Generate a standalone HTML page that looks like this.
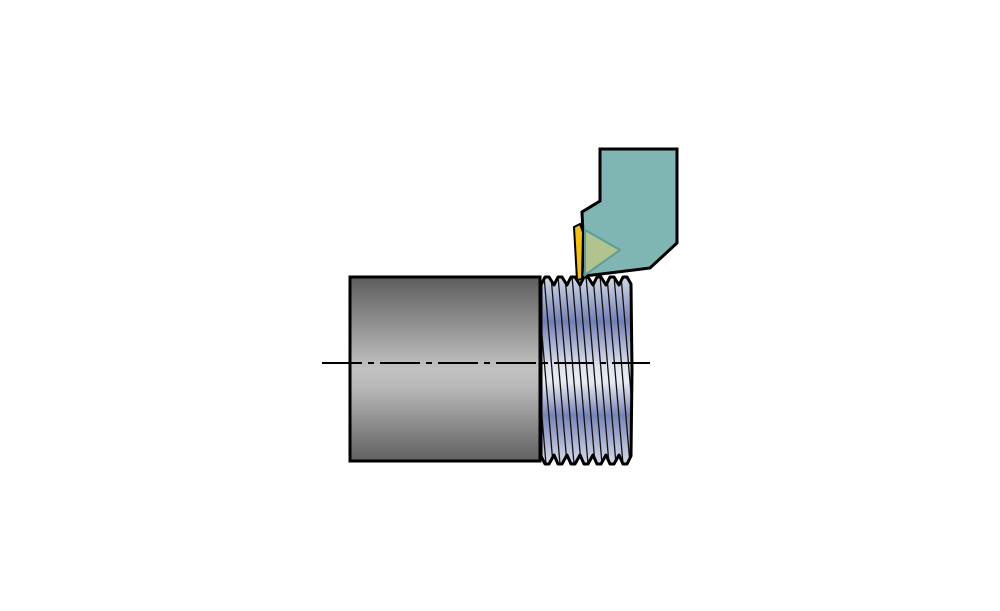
<!DOCTYPE html>
<html><head><style>html,body{margin:0;padding:0;background:#fff;}svg{display:block}</style></head>
<body>
<svg width="1000" height="611" viewBox="0 0 1000 611" xmlns="http://www.w3.org/2000/svg">
<defs>
<linearGradient id="cyl" x1="0" y1="0" x2="0" y2="1">
<stop offset="0" stop-color="#5c5c5c"/>
<stop offset="0.5" stop-color="#c2c2c2"/>
<stop offset="0.6" stop-color="#b8b8b8"/>
<stop offset="1" stop-color="#606060"/>
</linearGradient>
<linearGradient id="thr" x1="0" y1="0" x2="0" y2="1">
<stop offset="0" stop-color="#d2d8e6"/>
<stop offset="0.24" stop-color="#7380b4"/>
<stop offset="0.48" stop-color="#e0e4ee"/>
<stop offset="0.56" stop-color="#e8ebf2"/>
<stop offset="0.74" stop-color="#7884b6"/>
<stop offset="1" stop-color="#d6dbe8"/>
</linearGradient>
<clipPath id="tc"><path id="tp" d="M541,285 L545,277 L549,277 L554,285 L558,277 L562,277 L567,285 L571,277 L575,277 L580,285 L584,277 L588,277 L593,285 L597,277 L601,277 L606,285 L610,277 L614,277 L619,285 L623,277 L627,277 L631,284 L632,370 L631,456 L627,464 L623,464 L619,455 L614,464 L610,464 L606,455 L601,464 L597,464 L593,455 L588,464 L584,464 L580,455 L575,464 L571,464 L567,455 L562,464 L558,464 L554,455 L549,464 L545,464 L541,456 Z"/></clipPath>
</defs>
<rect x="350" y="277" width="190" height="184" fill="url(#cyl)" stroke="#000" stroke-width="3"/>
<use href="#tp" fill="url(#thr)"/>
<g clip-path="url(#tc)" stroke="#111" stroke-width="1.3">
<line x1="530" y1="276" x2="546" y2="464"/><line x1="537" y1="276" x2="553" y2="464"/>
<line x1="544" y1="276" x2="560" y2="464"/><line x1="551" y1="276" x2="567" y2="464"/>
<line x1="558" y1="276" x2="574" y2="464"/><line x1="565" y1="276" x2="581" y2="464"/>
<line x1="572" y1="276" x2="588" y2="464"/><line x1="579" y1="276" x2="595" y2="464"/>
<line x1="586" y1="276" x2="602" y2="464"/><line x1="593" y1="276" x2="609" y2="464"/>
<line x1="600" y1="276" x2="616" y2="464"/><line x1="607" y1="276" x2="623" y2="464"/>
<line x1="614" y1="276" x2="630" y2="464"/><line x1="621" y1="276" x2="637" y2="464"/>
</g>
<use href="#tp" fill="none" stroke="#000" stroke-width="3" stroke-linejoin="round"/>
<line x1="322" y1="363" x2="650" y2="363" stroke="#000" stroke-width="2" stroke-dasharray="40,6,6,6"/>
<polygon points="600,149 677,149 677,243 650,268 585,276 582,212 600,201" fill="#7fb5b3" stroke="#000" stroke-width="3"/>
<polygon points="585,230 620,250 585,275" fill="#b2c48e" stroke="#5f9c98" stroke-width="2"/>
<polygon points="574,227 580,224 583,232 582,279 577,280" fill="#f5c010" stroke="#000" stroke-width="2"/>
</svg>
</body></html>
